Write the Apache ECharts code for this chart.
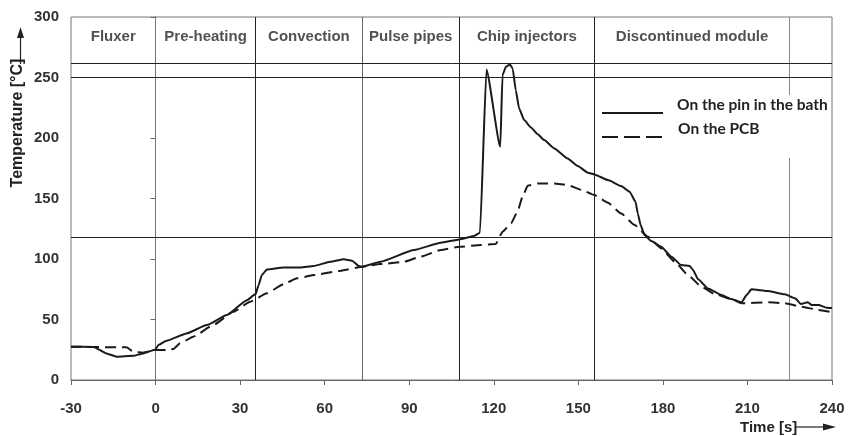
<!DOCTYPE html>
<html>
<head>
<meta charset="utf-8">
<script src="https://cdn.jsdelivr.net/npm/echarts@6/dist/echarts.min.js"></script>
<style>
  html, body { margin: 0; padding: 0; background: #fff; }
  #chart { width: 860px; height: 436px; }
</style>
</head>
<body>
<div id="chart"></div>
<script>
// ticks
var xTicks = [-30, 0, 30, 60, 90, 120, 150, 180, 210, 240]
var yTicks = [0, 50, 100, 150, 200, 250, 300]

// zones of the machine (boundaries in s) and their names
var zoneEdges = [-30, 0, 35.5, 73.3, 107.8, 155.7, 225]
var zoneNames = ['Fluxer', 'Pre-heating', 'Convection', 'Pulse pipes', 'Chip injectors', 'Discontinued module']
var zoneLineColors = ['#777', '#222', '#666', '#222', '#222', '#888']
// horizontal reference lines
var refTemps = [262, 250, 118]

// On the pin in the bath
var pinTime = [-30, -22, -17.4, -13.8, -7.9, -4.4, 0, 1, 3.9, 11, 18.2, 25.3, 32.4, 35.5, 36.5, 37.7, 39.5, 45.4, 51.4,
  56.1, 62, 66.8, 69.7, 72.1, 73.3, 79.8, 91.7, 101.2, 107.8, 113, 115.1, 117.4, 122.3, 123.1, 124.3, 125.7, 126.7,
  127.8, 129, 130.8, 133.2, 135.6, 137.9, 141.5, 146.2, 149.8, 153.4, 155.7, 160.5, 165.2, 168.2, 170.3, 171.1, 172.1,
  173.5, 175.9, 179.4, 183, 186.5, 189.5, 190.7, 192.5, 196, 200.8, 204.3, 207.9, 209.7, 211.4, 217.4, 223.3, 226.9,
  229, 231.4, 232.8, 235.2, 238.1, 240]
var pinTemp = [27.5, 27.3, 22, 19.3, 20, 22, 25.3, 29, 32.5, 38.5, 45.4, 53.7, 66, 71, 78, 86.7, 91.4, 93, 93,
  94.2, 97.7, 99.7, 98.6, 94.2, 93.6, 97.7, 107.4, 113.4, 116.2, 119, 121.7, 256.7, 192.7, 252, 258.8, 260.8, 257.5,
  239.6, 224.4, 214.8, 208.7, 203, 198.3, 191.4, 183.1, 176.8, 171.3, 169.9, 165.2, 160.3, 155.6, 147.3, 137.7, 128,
  119.8, 114.8, 110.1, 101.9, 95, 94.2, 90.9, 83.2, 75.7, 70.2, 66.9, 64.2, 70.2, 74.9, 73.5, 70.8, 67.5,
  62.8, 64.2, 62, 62, 59.7, 59.5]

// On the PCB
var pcbTime = [-30, -10.3, -7.9, -4.4, 0, 3.9, 6.3, 8.7, 13.4, 20.5, 27.6, 33.6, 39.5, 45.4, 50.2, 56.1, 65, 73.3,
  79.8, 88.1, 94, 101.2, 107.8, 115.4, 120.7, 123.1, 126.1, 128.4, 130.2, 132, 135.6, 141.5, 146.2, 151, 155.7,
  160.5, 165.2, 170, 174.7, 179.4, 184.2, 188.9, 193.7, 198.4, 204.3, 207.9, 217.4, 223.3, 229.3, 235.2, 240]
var pcbTemp = [27.5, 27, 23.4, 22.6, 24.8, 24.8, 25.6, 30.3, 35.8, 45.4, 56.4, 64.7, 71.6, 79.2, 84, 86.7, 90, 93.6,
  95.8, 97.7, 101.9, 107.4, 110.1, 111.5, 112.3, 122.5, 129.4, 139, 151.4, 160.5, 162.5, 162.5, 161.1, 157.2, 152.8,
  146.5, 137.7, 128, 118.4, 108.8, 97.7, 86.7, 77.1, 71, 66.9, 63.4, 64.2, 63.4, 60.6, 57.8, 56]

var seriesNames = ['On the pin in the bath', 'On the PCB']

function zip(a, b) {
  var out = []
  for (var i = 0; i < a.length; i++) out.push([a[i], b[i]])
  return out
}

var zoneLabelData = []
for (var i = 0; i < zoneNames.length; i++) {
  var end = i + 1 < zoneEdges.length ? zoneEdges[i + 1] : 240
  zoneLabelData.push({ name: zoneNames[i], value: [(zoneEdges[i] + end) / 2, 284] })
}

var markX = []
for (var j = 1; j < zoneEdges.length; j++) {
  markX.push({ xAxis: zoneEdges[j], lineStyle: { color: zoneLineColors[j - 1] } })
}
var markY = refTemps.map(function (v) { return { yAxis: v } })

var boldFont = 'Liberation Sans, Arial, sans-serif'
var legendFont = 'bold 15.5px Lato, sans-serif'

var chart = echarts.init(document.getElementById('chart'))

var option = {
  backgroundColor: '#fff',
  animation: false,
  grid: {
    left: 71, right: 28, top: 17, bottom: 56,
    show: true, borderColor: '#777', borderWidth: 1
  },
  xAxis: {
    type: 'value', min: -30, max: 240, interval: 30,
    axisLine: { lineStyle: { color: '#666', width: 1 } },
    axisTick: { show: true, length: 5, lineStyle: { color: '#666' } },
    axisLabel: {
      margin: 21, fontFamily: boldFont, fontWeight: 'bold', fontSize: 15, color: '#333',
      customValues: xTicks
    },
    splitLine: { show: false }
  },
  yAxis: {
    type: 'value', min: 0, max: 300, interval: 50,
    axisLine: { show: true, lineStyle: { color: '#222', width: 1 } },
    axisTick: { show: true, length: 5, lineStyle: { color: '#666' } },
    axisLabel: {
      margin: 12, fontFamily: boldFont, fontWeight: 'bold', fontSize: 15, color: '#333',
      customValues: yTicks
    },
    splitLine: { show: false }
  },
  series: [
    {
      name: seriesNames[0],
      type: 'line',
      data: zip(pinTime, pinTemp),
      symbol: 'none',
      smooth: 0.15,
      smoothMonotone: 'x',
      lineStyle: { color: '#1a1a1a', width: 2 },
      z: 3,
      markLine: {
        silent: true,
        symbol: 'none',
        label: { show: false },
        lineStyle: { color: '#222', width: 1, type: 'solid' },
        data: markX.concat(markY),
        z: 1
      }
    },
    {
      name: seriesNames[1],
      type: 'line',
      data: zip(pcbTime, pcbTemp),
      symbol: 'none',
      smooth: 0.15,
      smoothMonotone: 'x',
      lineStyle: { color: '#1a1a1a', width: 2, type: [11, 6] },
      z: 3
    },
    {
      name: 'zones',
      type: 'scatter',
      data: zoneLabelData,
      symbolSize: 1,
      itemStyle: { color: 'rgba(0,0,0,0)' },
      silent: true,
      label: {
        show: true, position: 'inside',
        formatter: '{b}',
        fontFamily: boldFont, fontWeight: 'bold', fontSize: 15, color: '#262626'
      }
    }
  ],
  graphic: [
    // legend box (covers the 225 s line like in the original)
    { type: 'rect', shape: { x: 600, y: 95, width: 230, height: 63 }, style: { fill: '#fff' }, z: 10 },
    { type: 'line', shape: { x1: 602, y1: 113, x2: 663, y2: 113 }, style: { stroke: '#1a1a1a', lineWidth: 2 }, z: 11 },
    { type: 'line', shape: { x1: 602, y1: 137, x2: 663, y2: 137 }, style: { stroke: '#1a1a1a', lineWidth: 2, lineDash: [16, 6] }, z: 11 },
    { type: 'text', x: 677, y: 105, z: 11, style: { text: seriesNames[0], fill: '#222', font: legendFont, verticalAlign: 'middle' } },
    { type: 'text', x: 678, y: 129, z: 11, style: { text: seriesNames[1], fill: '#222', font: legendFont, verticalAlign: 'middle' } },
    // y axis title with arrow
    {
      type: 'text', x: 18, y: 123, rotation: Math.PI / 2,
      style: {
        text: 'Temperature [°C]', fill: '#222',
        font: 'bold 16px "Liberation Sans", Arial, sans-serif',
        align: 'center', verticalAlign: 'middle'
      }
    },
    { type: 'line', shape: { x1: 20.5, y1: 64, x2: 20.5, y2: 36 }, style: { stroke: '#222', lineWidth: 1.2 } },
    { type: 'polygon', shape: { points: [[20.5, 27], [17, 38], [24, 38]] }, style: { fill: '#222' } },
    // x axis title with arrow
    {
      type: 'text', x: 740, y: 428,
      style: {
        text: 'Time [s]', fill: '#222',
        font: 'bold 15px "Liberation Sans", Arial, sans-serif',
        align: 'left', verticalAlign: 'middle'
      }
    },
    { type: 'line', shape: { x1: 796, y1: 427, x2: 825, y2: 427 }, style: { stroke: '#222', lineWidth: 1.2 } },
    { type: 'polygon', shape: { points: [[836, 427], [823, 423.5], [823, 430.5]] }, style: { fill: '#222' } }
  ]
}

chart.setOption(option)
</script>
</body>
</html>
